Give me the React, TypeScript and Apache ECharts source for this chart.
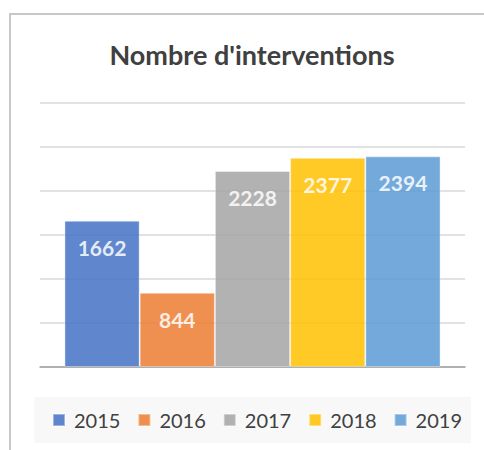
import React, { useEffect, useRef } from "react";
import * as echarts from "echarts";

const titleText = "Nombre d'interventions";
const years = ["2015", "2016", "2017", "2018", "2019"];
const values = [1662, 844, 2228, 2377, 2394];
const colors = ["#4472C4", "#ED7D31", "#A5A5A5", "#FFC000", "#5B9BD5"];
const yMax = 3000;
const yInterval = 500;

export default function App() {
  const ref = useRef<HTMLDivElement>(null);
  useEffect(() => {
    if (!ref.current) return;
    const chart = echarts.init(ref.current, undefined, { renderer: "svg" });
    const series = years.map((y, i) => ({
      name: y,
      type: "bar",
      data: [values[i]],
      barGap: "0%",
      barCategoryGap: "11.5%",
      itemStyle: {
        color: colors[i],
        opacity: 0.85,
        borderColor: "rgba(255,255,255,0.45)",
        borderWidth: 1,
      },
      label: {
        show: true,
        position: "insideTop",
        distance: 16,
        color: "#ffffff",
        fontFamily: "Lato",
        fontWeight: "bold",
        fontSize: 21,
        lineHeight: 21,
      },
    }));
    chart.setOption({
      animation: false,
      backgroundColor: "#ffffff",
      graphic: [
        {
          type: "rect",
          shape: { x: 10, y: 14, width: 600, height: 600 },
          style: { fill: "none", stroke: "#c8c8c8", lineWidth: 2 },
          silent: true,
          z: -10,
        },
        {
          type: "rect",
          shape: { x: 34, y: 397, width: 437, height: 46 },
          style: { fill: "#f8f8f8" },
          silent: true,
          z: -5,
        },
        {
          type: "text",
          x: 252,
          y: 54,
          style: {
            text: titleText,
            fontFamily: "Lato",
            fontWeight: "bold",
            fontSize: 27,
            fill: "#404040",
            textAlign: "center",
            textVerticalAlign: "middle",
          },
        },
      ],
      legend: {
        data: years,
        left: 52,
        top: 410,
        itemWidth: 12,
        itemHeight: 12,
        itemGap: 17,
        icon: "rect",
        padding: 0,
        textStyle: {
          fontFamily: "Lato",
          fontSize: 20,
          color: "#404040",
          padding: [0, 0, 0, 4],
        },
      },
      grid: { left: 40, right: 19, top: 103, bottom: 83 },
      xAxis: {
        type: "category",
        data: [""],
        axisTick: { show: false },
        axisLabel: { show: false },
        axisLine: { lineStyle: { color: "#a0a0a0", width: 1.5 } },
      },
      yAxis: {
        type: "value",
        min: 0,
        max: yMax,
        interval: yInterval,
        axisLabel: { show: false },
        axisLine: { show: false },
        axisTick: { show: false },
        splitLine: { lineStyle: { color: "#d9d9d9", width: 1.5 } },
      },
      series,
    });
    return () => chart.dispose();
  }, []);
  return (
    <div
      ref={ref}
      style={{ position: "absolute", left: 0, top: 0, width: 484, height: 450 }}
    />
  );
}
